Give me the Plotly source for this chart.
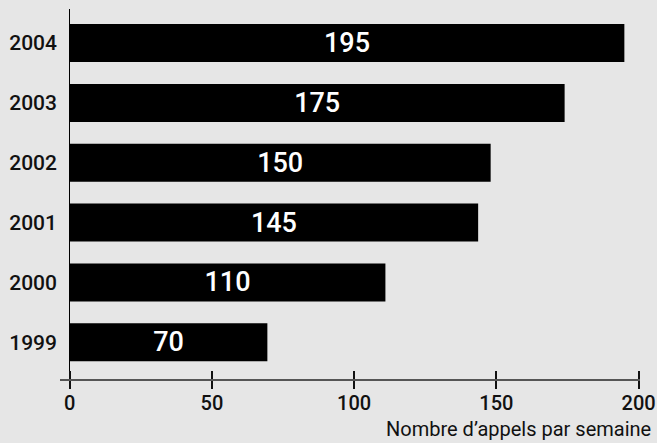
import plotly.graph_objects as go

years = ["1999", "2000", "2001", "2002", "2003", "2004"]
bar_lengths = [69.5, 111, 143.6, 148, 174, 195]
bar_labels = ["70", "110", "145", "150", "175", "195"]
x_ticks = [0, 50, 100, 150, 200]
x_title = "Nombre d\u2019appels par semaine"

BG = "#e6e6e6"
FONT = "Roboto, Liberation Sans, Arial, sans-serif"

fig = go.Figure()
fig.add_trace(go.Bar(
    y=years, x=bar_lengths, orientation="h",
    marker=dict(color="#000000", line=dict(width=0)),
    width=0.635,
    text=bar_labels, textposition="inside", insidetextanchor="middle",
    textfont=dict(color="#ffffff", size=27, family=FONT, weight=500),
    textangle=0, hoverinfo="skip", showlegend=False,
))
# invisible trace on the overlay axis so its ticks render
fig.add_trace(go.Scatter(x=[0, 200], y=[years[0], years[0]], xaxis="x2", yaxis="y",
                         mode="markers", marker=dict(opacity=0), showlegend=False, hoverinfo="skip"))

fig.update_layout(
    width=657, height=443,
    paper_bgcolor=BG, plot_bgcolor=BG,
    margin=dict(l=60, r=17, t=9, b=64, autoexpand=False),
    font=dict(family=FONT, color="#111111"),
    xaxis=dict(
        range=[-3.4, 200.5], tickvals=x_ticks, ticktext=[str(v) for v in x_ticks],
        showgrid=False, zeroline=True, zerolinecolor="#000000", zerolinewidth=1,
        showline=True, linecolor="#555555", linewidth=2, automargin=False,
        ticks="outside", ticklen=8, tickwidth=2, tickcolor="#111111",
        tickfont=dict(size=20, family=FONT, weight=500),
        ticklabelstandoff=-3,
    ),
    xaxis2=dict(
        overlaying="x", matches="x", side="bottom", anchor="y", automargin=False,
        tickvals=x_ticks, showticklabels=False, showgrid=False, zeroline=False,
        showline=False, ticks="inside", ticklen=8, tickwidth=2, tickcolor="#111111",
    ),
    yaxis=dict(
        type="category", range=[-0.614, 5.569], showgrid=False, zeroline=False,
        showline=False, ticks="", automargin=False,
        tickfont=dict(size=21, family=FONT, weight=500),
        ticklabelstandoff=2,
    ),
    annotations=[dict(
        text=x_title, xref="paper", yref="paper", x=1, y=-0.133,
        xanchor="right", yanchor="middle", xshift=13, yshift=-1, showarrow=False,
        font=dict(size=20, family=FONT, color="#111111"),
    )],
)

fig.write_html(
    "out.html",
    config={"displayModeBar": False, "staticPlot": True},
    post_script="document.body.style.margin='0';document.body.style.background='%s';" % BG,
)
